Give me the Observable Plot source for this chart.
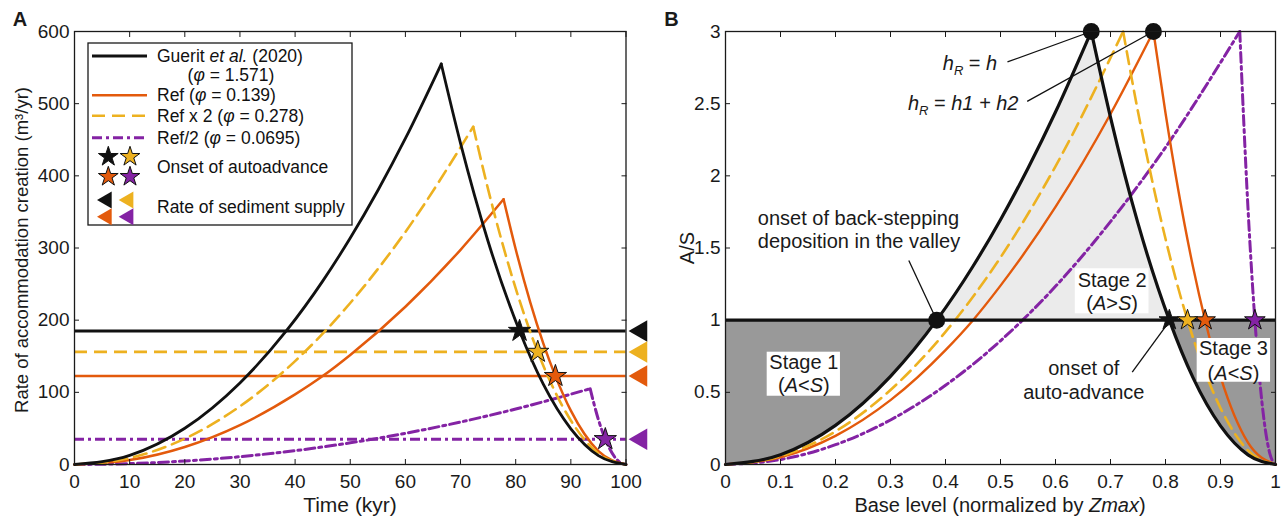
<!DOCTYPE html>
<html><head><meta charset="utf-8">
<script src="https://cdn.jsdelivr.net/npm/d3@7"></script>
<script src="https://cdn.jsdelivr.net/npm/@observablehq/plot@0.6"></script>
<style>
html,body{margin:0;padding:0;background:#fff;}
#fig{position:relative;width:1282px;height:519px;overflow:hidden;}
#fig svg{position:absolute;top:0;overflow:visible;}
</style></head><body><div id="fig"></div>
<script>
// ---------------- data ----------------
const xTicksA = [0,10,20,30,40,50,60,70,80,90,100];
const yTicksA = [0,100,200,300,400,500,600];
const xTicksB = [0,0.1,0.2,0.3,0.4,0.5,0.6,0.7,0.8,0.9,1];
const yTicksB = [0,0.5,1,1.5,2,2.5,3];

const xTitleA = "Time (kyr)";
const yTitleA = "Rate of accommodation creation (m³/yr)";
const xTitleB = "Base level (normalized by Zmax)";
const yTitleB = "A/S";

const seriesKeys = ["black","orange","yellow","purple"];
const seriesLabels = ["Guerit et al. (2020)","Ref","Ref x 2","Ref/2"];
const phiValues = ["1.571","0.139","0.278","0.0695"];
const supplyRate = [185,122.5,156,35];          // rate of sediment supply
const peakTime = [66.5,77.8,72.3,93.5];         // kyr
const onsetTime = [80.7,87.2,84.0,96.25];       // onset of autoadvance (kyr)
const backstepTime = 38.4;                      // onset of back-stepping (black)

const blackTime = [0,10,20,30,38.4,45,50,55,60,66.5,70,75,80.7,85,90,95,100];
const blackRate = [0,12.6,50.2,113,185,254.1,313.8,379.7,451.8,555,445,309,185,111.3,49.5,12.4,0];
const orangeTime = [0,10,20,30,40,45,50,60,70,77.8,80,85,87.2,90,95,100];
const orangeRate = [0,6.1,24.3,54.6,97.1,122.5,151.8,218.6,297.5,367.5,298.3,167.8,122.5,74.6,18.6,0];
const yellowTime = [0,10,20,30,40,50,60,72.3,75,80,84,90,95,100];
const yellowRate = [0,9,35.8,80.6,143.3,223.8,322.3,468,381.2,244,156,61,15.2,0];
const purpleTime = [0,10,20,30,40,50,60,70,80,93.5,95,96.25,97,98,99,100];
const purpleRate = [0,1.2,4.8,10.8,19.2,30,43.2,58.9,76.9,105,62.1,35,22.4,9.9,2.5,0];

// annotations of panel B (data coordinates)
const annoB = [
  {x:0.0587, y:1.703, label:"onset of back-stepping", anchor:"start"},
  {x:0.0587, y:1.541, label:"deposition in the valley", anchor:"start"},
  {x:0.494, y:2.779, label:"hR = h", anchor:"end"},
  {x:0.5327, y:2.502, label:"hR = h1 + h2", anchor:"end"},
  {x:0.703, y:1.275, label:"Stage 2", anchor:"middle"},
  {x:0.703, y:1.114, label:"(A>S)", anchor:"middle"},
  {x:0.1424, y:0.709, label:"Stage 1", anchor:"middle"},
  {x:0.1424, y:0.547, label:"(A<S)", anchor:"middle"},
  {x:0.9236, y:0.802, label:"Stage 3", anchor:"middle"},
  {x:0.9236, y:0.629, label:"(A<S)", anchor:"middle"},
  {x:0.6515, y:0.663, label:"onset of", anchor:"middle"},
  {x:0.6515, y:0.501, label:"auto-advance", anchor:"middle"}
];
const leadersB = [
  {x1:0.3333, y1:1.414, x2:0.384, y2:1},
  {x1:0.5127, y1:2.789, x2:0.665, y2:3},
  {x1:0.5485, y1:2.516, x2:0.778, y2:3},
  {x1:0.7395, y1:0.640, x2:0.806, y2:0.986}
];
const stageBoxes = [
  {x1:0.0758, x2:0.209, y1:0.473, y2:0.778},
  {x1:0.636, x2:0.770, y1:1.044, y2:1.356},
  {x1:0.8576, x2:0.991, y1:0.570, y2:0.873}
];

// ---------------- styles ----------------
const FONT = '"Liberation Sans", Arial, Helvetica, sans-serif';
const INK = "#1a1a1a";
const COLOR = {black:"#111111", orange:"#e35a0c", yellow:"#edb120", purple:"#8423a4"};
const DASH = {black:null, orange:null, yellow:"13,7", purple:"10,4,3,4"};
const WIDTH_A = {black:2.8, orange:2.5, yellow:2.6, purple:3};
const WIDTH_B = {black:3.2, orange:2.4, yellow:2.6, purple:3};
const TIMES = {black:blackTime, orange:orangeTime, yellow:yellowTime, purple:purpleTime};
const RATES = {black:blackRate, orange:orangeRate, yellow:yellowRate, purple:purpleRate};

const series = seriesKeys.map((key,i) => {
  const T = TIMES[key], R = RATES[key], S = supplyRate[i], P = peakTime[i];
  const rows = T.map((t,j) => ({key, t, a:R[j], x:t/100, r:R[j]/S}));
  const rise = rows.filter(d => d.t <= P).map(d => ({...d, seg:"rise"}));
  const fall = rows.filter(d => d.t >= P).map(d => ({...d, seg:"fall"}));
  return {key, S, P, onset:onsetTime[i], rise, fall, rows:[...rise, ...fall]};
});
const byKey = Object.fromEntries(series.map(s => [s.key, s]));
const drawOrder = ["purple","orange","yellow","black"];

const RICH = {
  "hR = h": [["h","i"],["R","s"],[" = "],["h","i"]],
  "hR = h1 + h2": [["h","i"],["R","s"],[" = "],["h1 + h2","i"]],
  "(A>S)": [["("],["A","i"],[">"],["S","i"],[")"]],
  "(A<S)": [["("],["A","i"],["<"],["S","i"],[")"]],
  "Base level (normalized by Zmax)": [["Base level (normalized by "],["Zmax","i"],[")"]]
};

function frameAxes(xt, yt, padX, padY) {
  const none = () => "";
  const fmt = d => `${d}`;
  return [
    Plot.axisX({anchor:"bottom", ticks:xt, tickSize:0, tickPadding:padX, tickFormat:fmt, label:null}),
    Plot.axisX({anchor:"bottom", ticks:xt, tickSize:-5, tickFormat:none, label:null}),
    Plot.axisX({anchor:"top", ticks:xt, tickSize:-5, tickFormat:none, label:null}),
    Plot.axisY({anchor:"left", ticks:yt, tickSize:0, tickPadding:padY, tickFormat:fmt, label:null}),
    Plot.axisY({anchor:"left", ticks:yt, tickSize:-5, tickFormat:none, label:null}),
    Plot.axisY({anchor:"right", ticks:yt, tickSize:-5, tickFormat:none, label:null}),
    Plot.frame({stroke:INK, strokeWidth:1.3})
  ];
}

const triLeft = {
  draw(ctx, size) {
    const s3 = Math.sqrt(3);
    const y = -Math.sqrt(size / (s3 * 3));
    ctx.moveTo(y * 2, 0);
    ctx.lineTo(-y, -s3 * y);
    ctx.lineTo(-y, s3 * y);
    ctx.closePath();
  }
};

const common = {
  height: 519, marginTop: 31, marginBottom: 55,
  color: {type: "identity"},
  style: {fontFamily: FONT, fontSize: "19px", color: INK, background: "transparent", overflow: "visible"}
};

// ---------------- panel A ----------------
const marksA = [];
for (const k of drawOrder) {
  const s = byKey[k];
  marksA.push(Plot.ruleY([s.S], {stroke: COLOR[k], strokeWidth: WIDTH_A[k], strokeDasharray: DASH[k]}));
}
for (const k of drawOrder) {
  const s = byKey[k];
  marksA.push(Plot.line(s.rows, {x:"t", y:"a", z:"seg", curve:"monotone-x", stroke: COLOR[k], strokeWidth: WIDTH_A[k], strokeDasharray: DASH[k]}));
}
const starRows = series.map(s => ({key:s.key, t:s.onset, x:s.onset/100, s:s.S}));
marksA.push(Plot.dot(starRows, {x:"t", y:"s", symbol:"star", r:7, fill: d => COLOR[d.key], stroke:"#111", strokeWidth:1}));
marksA.push(Plot.dot(series, {y:"S", frameAnchor:"right", dx:15, symbol:triLeft, r:8, fill: d => COLOR[d.key], stroke:"none"}));
marksA.push(...frameAxes(xTicksA, yTicksA, 10, 5));

const svgA = Plot.plot({
  ...common, width: 660, marginLeft: 74, marginRight: 34.5,
  x: {domain:[0,100]}, y: {domain:[0,600]},
  marks: marksA
});

// ---------------- panel B ----------------
const blk = byKey.black;
const stage1 = blk.rise.filter(d => d.t <= backstepTime);
const stage2a = blk.rise.filter(d => d.t >= backstepTime);
const stage2b = blk.fall.filter(d => d.t <= blk.onset);
const stage3 = blk.fall.filter(d => d.t >= blk.onset);
const DARK = "#999999", LIGHT = "#ebebeb";

const marksB = [
  Plot.areaY(stage1, {x:"x", y1:"r", y2:1, curve:"monotone-x", fill:DARK}),
  Plot.areaY(stage2a, {x:"x", y1:"r", y2:1, curve:"monotone-x", fill:LIGHT, stroke:LIGHT, strokeWidth:1}),
  Plot.areaY(stage2b, {x:"x", y1:"r", y2:1, curve:"monotone-x", fill:LIGHT, stroke:LIGHT, strokeWidth:1}),
  Plot.areaY(stage3, {x:"x", y1:"r", y2:1, curve:"monotone-x", fill:DARK})
];
for (const k of ["purple","orange","yellow"]) {
  const s = byKey[k];
  marksB.push(Plot.line(s.rows, {x:"x", y:"r", z:"seg", curve:"monotone-x", stroke: COLOR[k], strokeWidth: WIDTH_B[k], strokeDasharray: DASH[k]}));
}
marksB.push(Plot.ruleY([1], {stroke:"#111", strokeWidth:3.2}));
marksB.push(Plot.line(blk.rows, {x:"x", y:"r", z:"seg", curve:"monotone-x", stroke: COLOR.black, strokeWidth: WIDTH_B.black}));
marksB.push(Plot.rect(stageBoxes, {x1:"x1", x2:"x2", y1:"y1", y2:"y2", fill:"#fff"}));
for (const anchor of ["start","middle","end"]) {
  marksB.push(Plot.text(annoB.filter(d => d.anchor === anchor), {x:"x", y:"y", text:"label", textAnchor:anchor, fontSize:20, fill:INK}));
}
marksB.push(Plot.link(leadersB, {x1:"x1", y1:"y1", x2:"x2", y2:"y2", stroke:"#111", strokeWidth:1.3}));
const peakDots = [blk, byKey.orange].map(s => ({x: s.P/100, r: 3}));
peakDots.push({x: backstepTime/100, r: 1});
marksB.push(Plot.dot(peakDots, {x:"x", y:"r", r:8.5, fill:"#111"}));
marksB.push(Plot.dot(starRows, {x:"x", y: () => 1, symbol:"star", r:6.5, fill: d => COLOR[d.key], stroke:"#111", strokeWidth:1}));
marksB.push(...frameAxes(xTicksB, yTicksB, 10, 5));

const svgB = Plot.plot({
  ...common, width: 622, marginLeft: 65, marginRight: 7,
  x: {domain:[0,1]}, y: {domain:[0,3]},
  marks: marksB
});

const fig = document.getElementById("fig");
svgA.style.left = "0px";
svgB.style.left = "660px";
fig.appendChild(svgA);
fig.appendChild(svgB);

// ---------------- titles and panel letters ----------------
function title(svg, x, y, str, size, {rotate = 0, bold = false} = {}) {
  d3.select(svg).append("text")
    .attr("transform", `translate(${x},${y}) rotate(${rotate})`)
    .attr("text-anchor", "middle").attr("dy", "0.35em")
    .attr("font-family", FONT).attr("font-size", size)
    .attr("font-weight", bold ? "bold" : null)
    .attr("fill", INK).text(str);
}
title(svgA, 350, 505, xTitleA, 21);
title(svgA, 22, 250, yTitleA, 18.5, {rotate: -90});
title(svgA, 20, 18.5, "A", 20, {bold: true});
title(svgB, 340, 505, xTitleB, 20);
title(svgB, 27, 248, yTitleB, 20, {rotate: -90});
title(svgB, 11.5, 18.5, "B", 20, {bold: true});

// ---------------- rich text (italics / subscripts) ----------------
function applyRich(svg) {
  d3.select(svg).selectAll("text").each(function() {
    const parts = RICH[this.textContent];
    if (!parts || this.childElementCount) return;
    const sel = d3.select(this);
    sel.text(null);
    let shift = 0;
    for (const [s, st] of parts) {
      const t = sel.append("tspan").text(s);
      if (st === "i" || st === "s") t.attr("font-style", "italic");
      if (st === "s") { t.attr("font-size", "0.65em").attr("dy", 5); shift = 5; }
      else if (shift) { t.attr("dy", -shift); shift = 0; }
    }
  });
}
applyRich(svgA);
applyRich(svgB);

// ---------------- legend of panel A ----------------
(function addLegend() {
  const g = d3.select(svgA).append("g").attr("transform", "translate(88,43)")
    .attr("font-family", FONT).attr("font-size", 17.5).attr("fill", "#111");
  g.append("rect").attr("width", 264).attr("height", 182).attr("fill", "#fff")
    .attr("stroke", INK).attr("stroke-width", 1.3);
  const rowY = [13, 52.3, 72.7, 94.7];
  seriesKeys.forEach((k, i) => {
    g.append("line").attr("x1", 4).attr("x2", 59).attr("y1", rowY[i]).attr("y2", rowY[i])
      .attr("stroke", COLOR[k]).attr("stroke-width", WIDTH_A[k]).attr("stroke-dasharray", DASH[k]);
  });
  function txt(x, y, parts, anchor = "start") {
    const t = g.append("text").attr("x", x).attr("y", y).attr("dy", "0.35em").attr("text-anchor", anchor);
    for (const [s, st] of parts) t.append("tspan").attr("font-style", st === "i" ? "italic" : null).text(s);
  }
  txt(69, 13, [["Guerit "], ["et al.", "i"], [" (2020)"]]);
  txt(143, 31.6, [["("], ["φ", "i"], [` = ${phiValues[0]})`]], "middle");
  for (let i = 1; i < 4; i++) txt(69, rowY[i], [[`${seriesLabels[i]} (`], ["φ", "i"], [` = ${phiValues[i]})`]]);
  txt(69, 124, [["Onset of autoadvance"]]);
  txt(69, 164, [["Rate of sediment supply"]]);
  const starPath = d3.symbol(d3.symbolStar, Math.PI * 6.2 * 6.2)();
  const triPath = d3.symbol(triLeft, Math.PI * 6.3 * 6.3)();
  const pos = {black:[20.3, 0], yellow:[42, 0], orange:[20.3, 1], purple:[42, 1]};
  for (const k of seriesKeys) {
    const [x, r] = pos[k];
    g.append("path").attr("d", starPath).attr("transform", `translate(${x},${113.7 + r * 20})`)
      .attr("fill", COLOR[k]).attr("stroke", "#111").attr("stroke-width", 1);
    g.append("path").attr("d", triPath).attr("transform", `translate(${x - 1.5},${157 + r * 16.7})`)
      .attr("fill", COLOR[k]);
  }
})();
</script></body></html>
